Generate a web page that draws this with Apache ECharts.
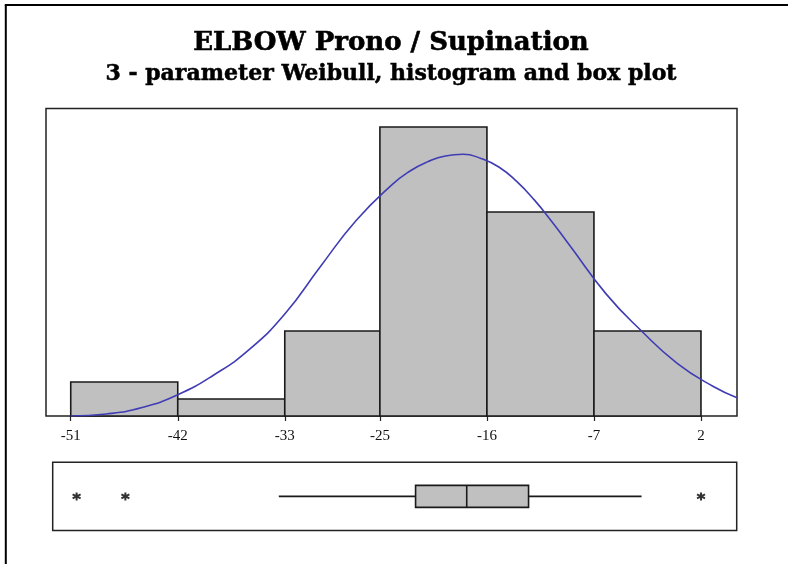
<!DOCTYPE html>
<html>
<head>
<meta charset="utf-8">
<script src="https://cdn.jsdelivr.net/npm/echarts@6/dist/echarts.min.js"></script>
<style>
  html, body { margin: 0; padding: 0; background: #ffffff; }
  #chart { width: 788px; height: 564px; }
</style>
</head>
<body>
<div id="chart"></div>
<script>
// Histogram bins (edges) and counts per bin
const binEdges = [-51, -42, -33, -25, -16, -7, 2];
const binCounts = [2, 1, 5, 17, 12, 5];
const tickLabels = [-51, -42, -33, -25, -16, -7, 2];

// Fitted 3-parameter Weibull curve, scaled to counts
const fitX = [-51, -48, -45, -42, -39, -36, -33, -30, -27, -24, -22.5, -21, -19.5, -18, -16.5, -15, -13.5, -12, -10.5, -9, -6, -3, 0, 3, 5.03];
const fitY = [0, 0.12, 0.5, 1.25, 2.4, 3.9, 6.0, 8.8, 11.5, 13.6, 14.4, 14.95, 15.3, 15.4, 15.15, 14.65, 13.8, 12.7, 11.4, 10.0, 7.2, 5.0, 3.1, 1.75, 1.08];

// Box plot: lower whisker, Q1, median, Q3, upper whisker
const boxStats = [-33.5, -22.0, -17.7, -12.5, -3.0];
const outliers = [-50.5, -46.4, 2.0];

const histData = binCounts.map((c, i) => [binEdges[i], binEdges[i + 1], c]);
const fitData = fitX.map((x, i) => [x, fitY[i]]);

const chart = echarts.init(document.getElementById('chart'), null, { renderer: 'canvas' });

const serifTitle = 'DejaVu Serif';
const serifTick = 'Liberation Serif';

chart.setOption({
  backgroundColor: '#ffffff',
  animation: false,
  graphic: [
    { type: 'line', shape: { x1: 5.8, y1: 5, x2: 5.8, y2: 564 }, style: { stroke: '#000', lineWidth: 2 } },
    { type: 'line', shape: { x1: 4.8, y1: 5, x2: 788, y2: 5 }, style: { stroke: '#000', lineWidth: 2 } },
    {
      type: 'text', x: 391, y: 43,
      style: { text: 'ELBOW Prono / Supination', fontFamily: serifTitle, fontWeight: 'bold', fontSize: 26, fill: '#000', stroke: '#000', lineWidth: 0.6, textAlign: 'center', textVerticalAlign: 'middle' }
    },
    {
      type: 'text', x: 391, y: 74,
      style: { text: '3 - parameter Weibull, histogram and box plot', fontFamily: serifTitle, fontWeight: 'bold', fontSize: 22, fill: '#000', stroke: '#000', lineWidth: 0.5, textAlign: 'center', textVerticalAlign: 'middle' }
    }
  ],
  grid: [
    { left: 46, top: 108.5, width: 691, height: 307.5, show: true, borderColor: '#222', borderWidth: 1.5, backgroundColor: '#fff', outerBoundsMode: 'none' },
    { left: 52.7, top: 462.3, width: 684, height: 68.2, show: true, borderColor: '#222', borderWidth: 1.5, backgroundColor: '#fff', outerBoundsMode: 'none' }
  ],
  xAxis: [
    {
      type: 'value', gridIndex: 0, min: -53.08, max: 5.03,
      axisLine: { show: false },
      splitLine: { show: false },
      axisTick: { show: true, inside: false, length: 5, customValues: tickLabels, lineStyle: { color: '#222', width: 1.2 } },
      axisLabel: { show: true, customValues: tickLabels, margin: 13, fontFamily: serifTick, fontSize: 15, color: '#111', showMinLabel: true, showMaxLabel: true }
    },
    {
      type: 'value', gridIndex: 1, min: -52.51, max: 5.0,
      axisLine: { show: false }, axisTick: { show: false }, axisLabel: { show: false }, splitLine: { show: false }
    }
  ],
  yAxis: [
    { type: 'value', gridIndex: 0, min: 0, max: 18.09, show: false, splitLine: { show: false } },
    { type: 'value', gridIndex: 1, min: 0, max: 1, show: false, splitLine: { show: false } }
  ],
  series: [
    {
      type: 'custom', name: 'Histogram', xAxisIndex: 0, yAxisIndex: 0,
      encode: { x: [0, 1], y: 2 },
      data: histData,
      z: 2,
      renderItem: function (params, api) {
        const p0 = api.coord([api.value(0), 0]);
        const p1 = api.coord([api.value(1), api.value(2)]);
        return {
          type: 'rect',
          shape: { x: p0[0], y: p1[1], width: p1[0] - p0[0], height: p0[1] - p1[1] },
          style: { fill: '#c0c0c0', stroke: '#1a1a1a', lineWidth: 1.6 }
        };
      }
    },
    {
      type: 'line', name: 'Weibull fit', xAxisIndex: 0, yAxisIndex: 0,
      data: fitData, smooth: 0.5, showSymbol: false, symbol: 'none',
      z: 5,
      lineStyle: { color: '#3f3cb4', width: 1.6 }
    },
    {
      type: 'custom', name: 'Box plot', xAxisIndex: 1, yAxisIndex: 1,
      encode: { x: [0, 1, 2, 3, 4] },
      data: [boxStats.concat([0.5])],
      z: 3,
      renderItem: function (params, api) {
        const yc = api.coord([0, api.value(5)])[1];
        const lo = api.coord([api.value(0), 0.5])[0];
        const q1 = api.coord([api.value(1), 0.5])[0];
        const md = api.coord([api.value(2), 0.5])[0];
        const q3 = api.coord([api.value(3), 0.5])[0];
        const hi = api.coord([api.value(4), 0.5])[0];
        const h = 11;
        const stroke = { stroke: '#1a1a1a', lineWidth: 1.6 };
        return {
          type: 'group',
          children: [
            { type: 'line', shape: { x1: lo, y1: yc, x2: q1, y2: yc }, style: stroke },
            { type: 'line', shape: { x1: q3, y1: yc, x2: hi, y2: yc }, style: stroke },
            { type: 'rect', shape: { x: q1, y: yc - h, width: q3 - q1, height: 2 * h }, style: { fill: '#c0c0c0', stroke: '#1a1a1a', lineWidth: 1.6 } },
            { type: 'line', shape: { x1: md, y1: yc - h, x2: md, y2: yc + h }, style: stroke }
          ]
        };
      }
    },
    {
      type: 'scatter', name: 'Outliers', xAxisIndex: 1, yAxisIndex: 1,
      data: outliers.map(v => [v, 0.5]),
      symbol: 'path://M5,0L5,10M0.67,2.5L9.33,7.5M0.67,7.5L9.33,2.5',
      symbolSize: 8,
      z: 4,
      itemStyle: { color: 'rgba(0,0,0,0)', borderColor: '#000', borderWidth: 2 }
    }
  ]
});
</script>
</body>
</html>
